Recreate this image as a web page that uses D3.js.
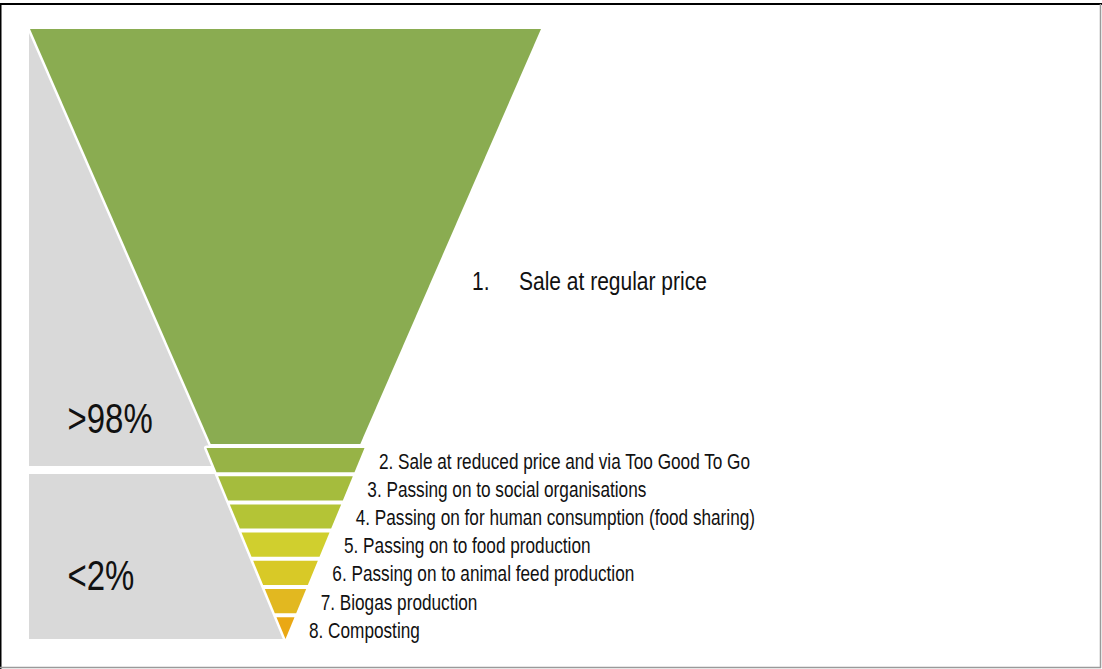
<!DOCTYPE html>
<html><head><meta charset="utf-8">
<script src="https://cdn.jsdelivr.net/npm/d3@7"></script>
<style>
body{margin:0;background:#fff}
svg{display:block}
text{font-family:"Liberation Sans",Arial,sans-serif;fill:#111}
</style>
</head><body><svg id="c" width="1102" height="669"></svg>
<script>
// ---- data ----
const stageNumbers = ["1.","2.","3.","4.","5.","6.","7.","8."];
const stageNames = [
  "Sale at regular price",
  "Sale at reduced price and via Too Good To Go",
  "Passing on to social organisations",
  "Passing on for human consumption (food sharing)",
  "Passing on to food production",
  "Passing on to animal feed production",
  "Biogas production",
  "Composting"
];
const stageColors = ["#8aac51","#97b346","#a5bc3d","#b4c436","#d0cf2e","#d8c927","#e2b820","#eaa814"];
const shareLabels = [">98%","<2%"];

// ---- layout ----
const svg = d3.select("#c");
const cx = 285.5;
const gray = "#d9d9d9";

function narrowText(sel, x, y, k) {
  return sel.attr("transform", `translate(${x},${y}) scale(${k},1)`);
}

// big (first) stage geometry
const bigY = [29, 444];
const bigHalf = d3.scaleLinear().domain(bigY).range([255.5, 74.8]);

// small stages: band scale along y, width shrinking to apex
const small = stageNames.slice(1);
const yBand = d3.scaleBand().domain(small).range([446, 643.4]).paddingInner(0);
const apexY = 639;
const smallHalf = d3.scaleLinear().domain([448, apexY]).range([79, 0]).clamp(true);

// gray share blocks
const shareY = d3.scaleOrdinal().domain(shareLabels).range([[29, 466], [474, 639]]);
const shareTextY = d3.scaleOrdinal().domain(shareLabels).range([433, 590]);

svg.selectAll("rect.share").data(shareLabels).enter().append("rect")
  .attr("class","share")
  .attr("x", 29).attr("width", cx - 29)
  .attr("y", d => shareY(d)[0])
  .attr("height", d => shareY(d)[1] - shareY(d)[0])
  .attr("fill", gray);

svg.selectAll("text.share").data(shareLabels).enter().append("text")
  .attr("class","share")
  .attr("font-size", 42)
  .each(function(d){ narrowText(d3.select(this), 67.5, shareTextY(d), 0.785); })
  .text(d => d);

const line = d3.line();
function trap(y0, y1, hw) {
  const h0 = hw(y0), h1 = hw(y1);
  if (h1 <= 0) return line([[cx - h0, y0],[cx + h0, y0],[cx, apexY]]) + "Z";
  return line([[cx - h0, y0],[cx + h0, y0],[cx + h1, y1],[cx - h1, y1]]) + "Z";
}

// segments geometry
const segs = [{name: stageNames[0], color: stageColors[0], num: stageNumbers[0], y0: bigY[0], y1: bigY[1], hw: bigHalf}]
  .concat(small.map((n, i) => ({
    name: n, color: stageColors[i + 1], num: stageNumbers[i + 1],
    y0: yBand(n) + 2, y1: yBand(n) + yBand.bandwidth() - 2, hw: smallHalf
  })));

// white silhouette (separator between gray and funnel)
const sil = svg.append("g");
sil.append("path").attr("d", trap(bigY[0], bigY[1], bigHalf))
  .attr("fill","#fff").attr("stroke","#fff").attr("stroke-width",5).attr("stroke-linejoin","round");
sil.append("path").attr("d", trap(448, apexY + 5, smallHalf))
  .attr("fill","#fff").attr("stroke","#fff").attr("stroke-width",5).attr("stroke-linejoin","round");

svg.append("g").selectAll("path").data(segs).enter().append("path")
  .attr("d", d => trap(d.y0, d.y1, d.hw))
  .attr("fill", d => d.color);

// labels
narrowText(svg.append("text"), 472, 289.5, 0.84).attr("font-size", 25).text(segs[0].num);
narrowText(svg.append("text"), 519, 289.5, 0.84).attr("font-size", 25).text(segs[0].name);

svg.append("g").selectAll("text").data(segs.slice(1)).enter().append("text")
  .attr("font-size", 21.5)
  .each(function(d){
    const m = (d.y0 + d.y1) / 2;
    narrowText(d3.select(this), cx + smallHalf(m) + 19.5, m + 8.5, 0.80);
  })
  .text(d => d.num + " " + d.name);

// frame
svg.append("line").attr("x1",0).attr("x2",1102).attr("y1",4).attr("y2",4).attr("stroke","#000").attr("stroke-width",2);
svg.append("line").attr("x1",0.75).attr("x2",0.75).attr("y1",3).attr("y2",669).attr("stroke","#000").attr("stroke-width",1.5);
svg.append("line").attr("x1",1100.5).attr("x2",1100.5).attr("y1",4).attr("y2",668).attr("stroke","#9a9a9a").attr("stroke-width",1.5);
svg.append("line").attr("x1",0).attr("x2",1101).attr("y1",667.5).attr("y2",667.5).attr("stroke","#9a9a9a").attr("stroke-width",1.5);
</script>
</body></html>
